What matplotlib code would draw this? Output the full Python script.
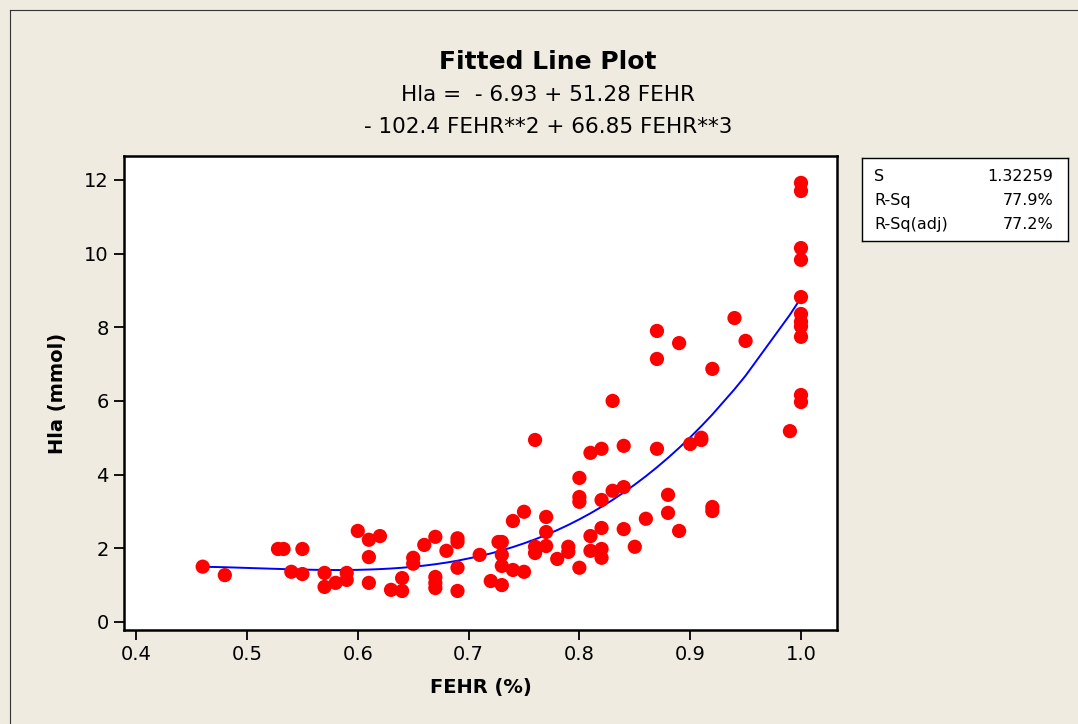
import numpy as np
import matplotlib
matplotlib.use("Agg")
import matplotlib.pyplot as plt
from matplotlib.lines import Line2D

# FEHR (fraction) and Hla (mmol)
fehr = [
    0.46, 0.48, 0.528, 0.533, 0.54, 0.55, 0.55, 0.57, 0.57, 0.58,
    0.59, 0.59, 0.60, 0.61, 0.61, 0.61, 0.62, 0.63, 0.64, 0.64,
    0.65, 0.65, 0.66, 0.67, 0.67, 0.67, 0.67, 0.68, 0.69, 0.69,
    0.69, 0.69, 0.71, 0.72, 0.727, 0.73, 0.73, 0.73, 0.73, 0.74,
    0.74, 0.75, 0.75, 0.76, 0.76, 0.76, 0.77, 0.77, 0.77, 0.78,
    0.79, 0.79, 0.80, 0.80, 0.80, 0.80, 0.81, 0.81, 0.81, 0.82,
    0.82, 0.82, 0.82, 0.82, 0.83, 0.83, 0.84, 0.84, 0.84, 0.85,
    0.86, 0.87, 0.87, 0.87, 0.88, 0.88, 0.89, 0.89, 0.90, 0.91,
    0.91, 0.92, 0.92, 0.92, 0.94, 0.95, 0.99, 1.00, 1.00, 1.00,
    1.00, 1.00, 1.00, 1.00, 1.00, 1.00, 1.00, 1.00,
]
hla = [
    1.50, 1.27, 1.98, 1.98, 1.36, 1.98, 1.30, 1.33, 0.95, 1.06,
    1.33, 1.14, 2.47, 2.23, 1.76, 1.06, 2.33, 0.87, 1.19, 0.84,
    1.74, 1.58, 2.09, 2.31, 1.22, 1.06, 0.92, 1.93, 2.27, 2.17,
    1.47, 0.84, 1.82, 1.11, 2.17, 2.17, 1.82, 1.52, 1.00, 2.74,
    1.41, 2.99, 1.36, 4.94, 2.04, 1.87, 2.85, 2.44, 2.06, 1.71,
    2.04, 1.90, 3.91, 3.39, 3.26, 1.47, 4.59, 2.33, 1.93, 4.70,
    3.31, 2.55, 1.98, 1.74, 6.00, 3.56, 4.78, 3.66, 2.52, 2.04,
    2.80, 7.90, 7.14, 4.70, 3.45, 2.96, 7.57, 2.47, 4.83, 4.94,
    5.00, 6.87, 3.12, 3.01, 8.25, 7.63, 5.18, 11.92, 11.70, 10.15,
    9.83, 8.82, 8.36, 8.15, 8.02, 7.74, 6.16, 5.97,
]

# cubic fit coefficients shown in the title (highest power first)
coef = [66.85, -102.4, 51.28, -6.93]

stat_names = ["S", "R-Sq", "R-Sq(adj)"]
stat_values = ["1.32259", "77.9%", "77.2%"]

bg = "#EFEBE1"
fig = plt.figure(figsize=(10.78, 7.24), dpi=100, facecolor=bg)
W, H = 1078, 724

# outer page frame (top and left edges visible)
fig.add_artist(Line2D([10 / W, 10 / W], [0, 1 - 10 / H], color="#333333", lw=0.8))
fig.add_artist(Line2D([10 / W, 1], [1 - 10 / H, 1 - 10 / H], color="#333333", lw=0.8))

ax = fig.add_axes([124 / W, 1 - 630 / H, (837 - 124) / W, (630 - 156) / H])
ax.set_facecolor("white")

ax.scatter(fehr, hla, s=105, color="#FF0000", edgecolors="none", zorder=3)

xs = np.unique(fehr)
ax.plot(xs, np.polyval(coef, xs), color="#0000FF", lw=1.4, zorder=2)

ax.set_xlim(0.389, 1.0325)
ax.set_ylim(-0.22, 12.65)
ax.set_xticks([0.4, 0.5, 0.6, 0.7, 0.8, 0.9, 1.0])
ax.set_xticklabels(["0.4", "0.5", "0.6", "0.7", "0.8", "0.9", "1.0"])
ax.set_yticks([0, 2, 4, 6, 8, 10, 12])
ax.tick_params(direction="out", length=7, width=1.3, labelsize=14, pad=4)
for s in ax.spines.values():
    s.set_linewidth(1.8)

ax.set_xlabel("FEHR (%)", fontsize=14, fontweight="bold", labelpad=10)
ax.set_ylabel("Hla (mmol)", fontsize=14, fontweight="bold", labelpad=12)

cx = 548 / W
fig.text(cx, 1 - 62 / H, "Fitted Line Plot", ha="center", va="center",
         fontsize=18, fontweight="bold")
fig.text(cx, 1 - 95 / H, "Hla =  - 6.93 + 51.28 FEHR", ha="center", va="center",
         fontsize=15.5)
fig.text(cx, 1 - 127 / H, "- 102.4 FEHR**2 + 66.85 FEHR**3", ha="center",
         va="center", fontsize=15.5)

# summary statistics box
box = fig.add_axes([862 / W, 1 - 241 / H, (1068 - 862) / W, (241 - 158) / H])
box.set_xticks([])
box.set_yticks([])
for s in box.spines.values():
    s.set_linewidth(1.0)
for i, (n, v) in enumerate(zip(stat_names, stat_values)):
    yy = 0.78 - i * 0.29
    box.text(0.06, yy, n, fontsize=11.5, va="center", ha="left", transform=box.transAxes)
    box.text(0.93, yy, v, fontsize=11.5, va="center", ha="right", transform=box.transAxes)

fig.savefig("out.png", dpi=100, facecolor=bg)
